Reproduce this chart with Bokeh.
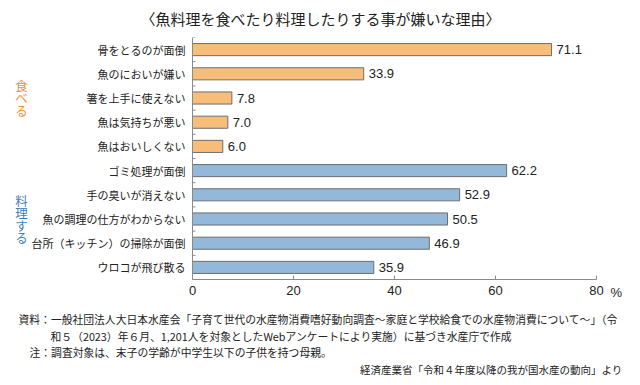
from bokeh.plotting import figure
from bokeh.layouts import column
from bokeh.models import Range1d, LinearAxis, FixedTicker, ColumnDataSource
from bokeh.core.properties import value
from bokeh.embed import file_html
from bokeh.resources import INLINE

# ---- data ----
categories = ["骨をとるのが面倒", "魚のにおいが嫌い", "箸を上手に使えない",
              "魚は気持ちが悪い", "魚はおいしくない", "ゴミ処理が面倒",
              "手の臭いが消えない", "魚の調理の仕方がわからない",
              "台所（キッチン）の掃除が面倒", "ウロコが飛び散る"]
values = [71.1, 33.9, 7.8, 7.0, 6.0, 62.2, 52.9, 50.5, 46.9, 35.9]
groups = ["食べる"] * 5 + ["料理する"] * 5
group_names = ["食べる", "料理する"]
x_ticks = [0, 20, 40, 60, 80]
unit = "%"
title_text = "〈魚料理を食べたり料理したりする事が嫌いな理由〉"
notes = [
    "資料：一般社団法人大日本水産会「子育て世代の水産物消費嗜好動向調査〜家庭と学校給食での水産物消費について〜」（令",
    "和５（2023）年６月、1,201人を対象としたWebアンケートにより実施）に基づき水産庁で作成",
    "注：調査対象は、末子の学齢が中学生以下の子供を持つ母親。",
]
source_note = "経済産業省「令和４年度以降の我が国水産の動向」より"

# ---- style / layout (pixels) ----
group_fill = {"食べる": "#F6BE7A", "料理する": "#94B8D9"}
group_text = {"食べる": "#E8903A", "料理する": "#3F7FB5"}
JP = "Noto Sans CJK JP"
NUM = "Liberation Sans"
INK = "#222222"
AXIS = "#8A8A8A"

PAGE_W = 640
TITLE_H = 37
MID_H = 268
NOTES_H = 80
PLOT_LEFT_PX = 192      # x = 0
PLOT_RIGHT_PX = 596     # x = 80
PLOT_H_PX = 242         # height of the category area
GROUP_X_PX = 21


def canvas(w, h, x_range=None, y_range=None):
    f = figure(width=w, height=h, output_backend="svg", toolbar_location=None,
               x_range=x_range if x_range is not None else Range1d(0, w),
               y_range=y_range if y_range is not None else Range1d(h, 0),
               x_axis_type=None, y_axis_type=None,
               min_border_left=0, min_border_right=0,
               min_border_top=0, min_border_bottom=0)
    f.outline_line_color = None
    f.xgrid.grid_line_color = None
    f.ygrid.grid_line_color = None
    f.background_fill_color = "white"
    f.border_fill_color = "white"
    return f


# ---- title ----
tf = canvas(PAGE_W, TITLE_H)
tf.text(x=[320], y=[18], text=[title_text], text_font=value(JP),
        text_font_size="15px", text_color=INK, text_align="center",
        text_baseline="middle")

# ---- main chart: frame spans the whole canvas, axes at fixed locations ----
n = len(categories)
x_max = x_ticks[-1]
px_per_x = (PLOT_RIGHT_PX - PLOT_LEFT_PX) / x_max
px_per_row = PLOT_H_PX / n
xr = Range1d(-PLOT_LEFT_PX / px_per_x, (PAGE_W - PLOT_LEFT_PX) / px_per_x)
yr = Range1d(MID_H / px_per_row, 0)
p = canvas(PAGE_W, MID_H, x_range=xr, y_range=yr)

centers = [i + 0.5 for i in range(n)]
src = ColumnDataSource(dict(
    cat=categories, yc=centers, val=values,
    fill=[group_fill[g] for g in groups],
    lab=[f"{v:.1f}" for v in values],
))
p.hbar(y="yc", right="val", left=0, height=0.5, source=src,
       fill_color="fill", line_color="#6E6E6E", line_width=1)
p.text(x="val", y="yc", text="lab", source=src, x_offset=5,
       text_baseline="middle", text_align="left",
       text_font=value(NUM), text_font_size="13px", text_color=INK)
p.text(x=0, y="yc", text="cat", source=src, x_offset=-7,
       text_baseline="middle", text_align="right",
       text_font=value(JP), text_font_size="11px", text_color=INK)

for g in group_names:
    idx = [i for i, gg in enumerate(groups) if gg == g]
    mid = centers[idx[len(idx) // 2]]
    p.text(x=[0], y=[mid], x_offset=GROUP_X_PX - PLOT_LEFT_PX,
           text=["\n".join(g)], text_font=value(JP),
           text_font_size="12.5px", text_color=group_text[g],
           text_align="center", text_baseline="middle", text_line_height=0.64)

xa = LinearAxis(ticker=FixedTicker(ticks=x_ticks), fixed_location=n,
                bounds=(0, x_max))
xa.axis_line_color = AXIS
xa.major_tick_line_color = AXIS
xa.major_tick_in = 4
xa.major_tick_out = 0
xa.minor_tick_line_color = None
xa.major_label_text_font = NUM
xa.major_label_text_font_size = "13px"
xa.major_label_text_color = INK
xa.major_label_standoff = 6
p.add_layout(xa, "below")

ya = LinearAxis(ticker=FixedTicker(ticks=[]), fixed_location=0, bounds=(0, n))
ya.axis_line_color = AXIS
ya.major_tick_line_color = None
ya.minor_tick_line_color = None
p.add_layout(ya, "left")

# short ticks at the row boundaries, pointing into the plot
bounds_y = list(range(n))
p.segment(x0=[0] * n, x1=[3 / px_per_x] * n, y0=bounds_y, y1=bounds_y,
          line_color=AXIS, line_width=1)

# unit sign right of the last tick label
p.text(x=[x_max], y=[n], x_offset=14, y_offset=13, text=[unit],
       text_font=value(NUM), text_font_size="13px", text_color=INK,
       text_align="left", text_baseline="middle")

# ---- notes ----
nf = canvas(PAGE_W, NOTES_H)
nf.text(x=[18, 50, 29], y=[13, 30, 46], text=notes, text_font=value(JP),
        text_font_size="10.8px", text_color=INK, text_align="left",
        text_baseline="middle")
nf.text(x=[622], y=[64], text=[source_note], text_font=value(JP),
        text_font_size="10.5px", text_color=INK, text_align="right",
        text_baseline="middle")

layout = column(tf, p, nf, spacing=0)
open("out.html", "w").write(file_html(layout, INLINE))
